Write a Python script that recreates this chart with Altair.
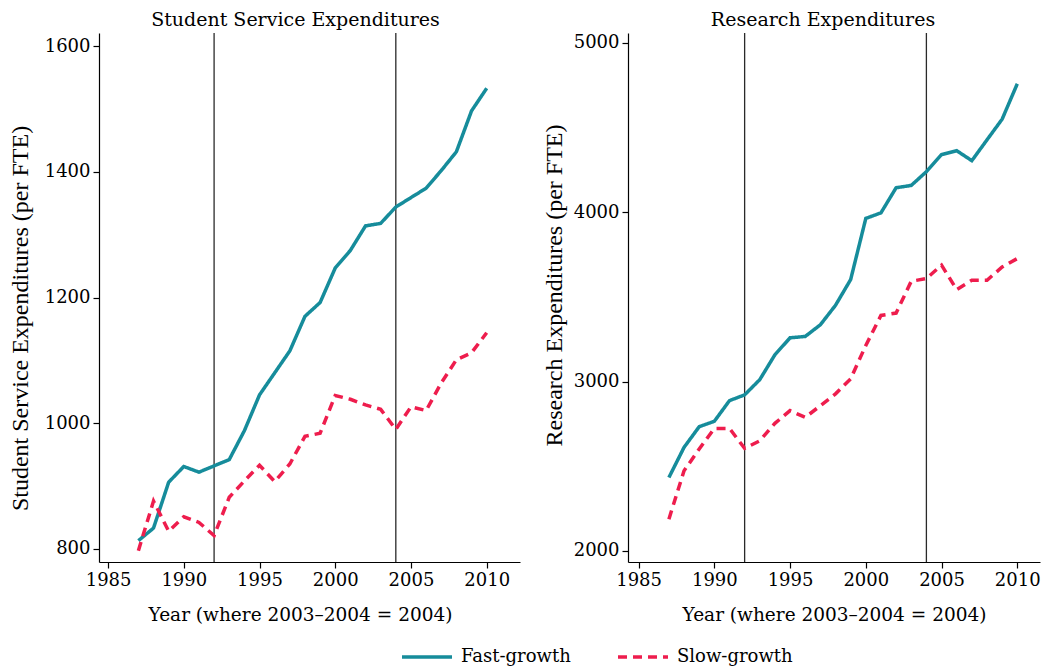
import altair as alt
import pandas as pd

years = list(range(1987, 2011))

ss_fast = [813, 833, 906, 931, 922, 932, 942, 988, 1045, 1080, 1115, 1170, 1192,
           1247, 1275, 1314, 1318, 1344, 1359, 1374, 1402, 1432, 1497, 1533]
ss_slow = [797, 876, 828, 851, 842, 821, 882, 908, 933, 907, 935, 979, 984,
           1044, 1038, 1029, 1022, 990, 1026, 1020, 1064, 1101, 1112, 1144]

res_fast = [2434, 2612, 2734, 2766, 2888, 2922, 3012, 3159, 3259, 3267, 3336, 3451, 3603,
            3964, 3997, 4145, 4159, 4240, 4341, 4364, 4305, 4428, 4550, 4759]
res_slow = [2188, 2474, 2602, 2724, 2724, 2606, 2651, 2754, 2829, 2789, 2858, 2928, 3017,
            3214, 3391, 3405, 3593, 3609, 3688, 3544, 3599, 3599, 3677, 3727]

groups = ["Fast-growth", "Slow-growth"]
colors = ["#168c9b", "#ee1d4d"]
vlines = [1992, 2004]
x_ticks = [1985, 1990, 1995, 2000, 2005, 2010]
ss_ticks = [800, 1000, 1200, 1400, 1600]
res_ticks = [2000, 3000, 4000, 5000]

SERIF = "DejaVu Serif"
YFONT = "Liberation Serif"


def long_df(fast, slow):
    rows = []
    for g, vals in zip(groups, [fast, slow]):
        for yr, v in zip(years, vals):
            rows.append({"year": yr, "value": v, "group": g})
    return pd.DataFrame(rows)


def legend():
    return alt.Legend(
        title=None, orient="none", direction="horizontal",
        legendX=301, legendY=597,
        symbolType="stroke", symbolSize=2500, symbolStrokeWidth=3.5,
        labelFont=SERIF, labelFontSize=18, labelColor="black",
        columnPadding=40, labelOffset=7, padding=0,
    )


color_enc = alt.Color("group:N", scale=alt.Scale(domain=groups, range=colors), legend=legend())
dash_enc = alt.StrokeDash("group:N", scale=alt.Scale(domain=groups, range=[[1, 0], [9, 6]]),
                          legend=legend())


def panel(fast, slow, title, ytitle, xdom, ydom, yticks, width, ytitle_pad, ytitle_y,
          title_dx, xtitle_x):
    df = long_df(fast, slow)
    xaxis = dict(values=x_ticks, format="d", title="Year (where 2003–2004 = 2004)",
                 titlePadding=16)
    if xtitle_x is not None:
        xaxis["titleX"] = xtitle_x
    x = alt.X("year:Q", scale=alt.Scale(domain=xdom, nice=False, zero=False),
              axis=alt.Axis(**xaxis))
    y = alt.Y(
        "value:Q",
        scale=alt.Scale(domain=ydom, nice=False, zero=False),
        axis=alt.Axis(values=yticks, format="d", title=ytitle, titlePadding=ytitle_pad,
                      titleFont=YFONT, titleFontSize=24, titleY=ytitle_y),
    )
    rules = alt.Chart(pd.DataFrame({"year": vlines})).mark_rule(
        color="#2a2a2a", strokeWidth=1.3
    ).encode(x=alt.X("year:Q"))
    lines = alt.Chart(df).mark_line(strokeWidth=3.5).encode(
        x=x, y=y, color=color_enc, strokeDash=dash_enc, detail="group:N"
    )
    return alt.layer(rules, lines).properties(
        width=width, height=529,
        title=alt.TitleParams(title, font=SERIF, fontSize=19, fontWeight="normal",
                              color="black", dx=title_dx, offset=2),
    )


left = panel(ss_fast, ss_slow, "Student Service Expenditures",
             "Student Service Expenditures (per FTE)",
             [1984.4, 2012.2], [779, 1621], ss_ticks, 421, 12, 285, -14, 201)
right = panel(res_fast, res_slow, "Research Expenditures",
              "Research Expenditures (per FTE)",
              [1984.3, 2011.5], [1935, 5059], res_ticks, 412, 7, 252, -11, None)

chart = alt.hconcat(left, right, spacing=22).resolve_scale(
    x="independent", y="independent", color="shared", strokeDash="shared"
).properties(
    padding={"top": 3, "left": 0, "right": 0, "bottom": 0}
).configure_view(stroke=None).configure_axis(
    grid=False, domainColor="black", tickColor="black", domainWidth=1.2, tickWidth=1.2,
    tickSize=6, labelFont=SERIF, labelFontSize=18, labelColor="black",
    titleFont=SERIF, titleFontSize=18.5, titleFontWeight="normal", titleColor="black",
    labelPadding=3,
)

chart.save("out.html", embed_options={"renderer": "svg", "actions": False})
